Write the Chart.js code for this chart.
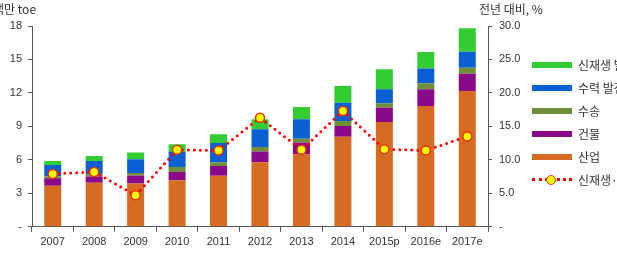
<!DOCTYPE html>
<html>
<head>
<meta charset="utf-8">
<script src="https://cdn.jsdelivr.net/npm/chart.js@4"></script>
<style>
  html, body { margin: 0; padding: 0; background: #fff; overflow: hidden; }
  #wrap { position: relative; width: 617px; height: 261px; overflow: hidden; font-family: "Noto Sans CJK KR", "Liberation Sans", sans-serif; color: #333; }
  #chart { position: absolute; left: 0; top: 0; }
  .axis-title { position: absolute; font-size: 12px; white-space: nowrap; line-height: 14px; }
  #legend { position: absolute; left: 532px; top: 53px; }
  .lg-row { height: 23px; display: flex; align-items: center; font-size: 12px; white-space: nowrap; }
  .lg-sw { width: 40px; height: 6px; margin-right: 6px; }
  .lg-line { position: relative; width: 40px; height: 10px; margin-right: 6px; }
  .lg-line .dots { position: absolute; left: 0; right: 0; top: 3px; border-top: 3px dotted #ff0000; }
  .lg-line .mk { position: absolute; left: 14px; top: 0; width: 8px; height: 8px; border-radius: 50%; background: #ffff00; border: 1.5px solid #e8320c; }
</style>
</head>
<body>
<div id="wrap">
  <canvas id="chart" width="617" height="261"></canvas>
  <div class="axis-title" style="left:-7px; top:2px;">백만 toe</div>
  <div class="axis-title" style="left:479px; top:2px;">전년 대비, %</div>
  <div id="legend"></div>
</div>
<script>
const YEARS = ["2007", "2008", "2009", "2010", "2011", "2012", "2013", "2014", "2015p", "2016e", "2017e"];

// 백만 toe, stacked from bottom
const INDUSTRY = [3.67, 3.94, 3.88, 4.18, 4.57, 5.79, 6.51, 8.08, 9.40, 10.83, 12.18];
const BUILDING = [0.69, 0.56, 0.72, 0.74, 0.89, 0.95, 1.04, 0.96, 1.28, 1.50, 1.54];
const TRANSPORT = [0.14, 0.20, 0.23, 0.45, 0.30, 0.42, 0.35, 0.45, 0.39, 0.53, 0.54];
const HYDRO = [1.05, 1.20, 1.23, 1.34, 1.76, 1.59, 1.74, 1.64, 1.26, 1.34, 1.44];
const RENEW_POWER = [0.35, 0.45, 0.60, 0.69, 0.78, 0.89, 1.10, 1.49, 1.79, 1.47, 2.09];

// 전년 대비 증가율, %
const GROWTH = [7.9, 8.2, 4.7, 11.5, 11.4, 16.3, 11.5, 17.3, 11.6, 11.4, 13.5];

const LEFT_TICKS = [0, 3, 6, 9, 12, 15, 18];
const RIGHT_TICKS = [0, 5, 10, 15, 20, 25, 30];

const COLORS = {
  industry: "#d66b24",
  building: "#880a88",
  transport: "#6f8f3a",
  hydro: "#0a5fd2",
  renew: "#33cc33",
  line: "#ff0000",
  marker: "#ffff00",
  markerBorder: "#e8320c",
};

const BAR_SERIES = [
  { label: "산업", data: INDUSTRY, color: COLORS.industry },
  { label: "건물", data: BUILDING, color: COLORS.building },
  { label: "수송", data: TRANSPORT, color: COLORS.transport },
  { label: "수력 발전", data: HYDRO, color: COLORS.hydro },
  { label: "신재생 발전", data: RENEW_POWER, color: COLORS.renew },
];
const LINE_LABEL = "신재생·기타 증가율";

const tickFont = { family: "'Liberation Sans', 'DejaVu Sans', sans-serif", size: 11 };

function fixWidth(w) {
  return (scale) => { scale.width = w; };
}

new Chart(document.getElementById("chart"), {
  data: {
    labels: YEARS,
    datasets: [
      {
        type: "line",
        label: LINE_LABEL,
        data: GROWTH,
        yAxisID: "y2",
        order: 0,
        borderColor: COLORS.line,
        borderWidth: 3,
        borderDash: [0, 6],
        borderCapStyle: "round",
        fill: false,
        tension: 0,
        pointRadius: 4.5,
        pointBackgroundColor: COLORS.marker,
        pointBorderColor: COLORS.markerBorder,
        pointBorderWidth: 1.5,
      },
      ...BAR_SERIES.map((s) => ({
        type: "bar",
        label: s.label,
        data: s.data,
        yAxisID: "y",
        order: 1,
        stack: "a",
        backgroundColor: s.color,
        borderWidth: 0,
        categoryPercentage: 1,
        barPercentage: 0.41,
      })),
    ],
  },
  options: {
    responsive: false,
    animation: false,
    layout: { padding: { top: 26, right: 0, left: 0, bottom: 8 } },
    plugins: { legend: { display: false }, tooltip: { enabled: false } },
    scales: {
      x: {
        stacked: true,
        grid: { offset: true, drawOnChartArea: false, tickLength: 5, color: "#555" },
        border: { color: "#555", width: 1 },
        ticks: { color: "#333", font: tickFont, padding: 4, maxRotation: 0 },
      },
      y: {
        position: "left",
        stacked: true,
        min: 0,
        max: 18,
        afterFit: fixWidth(32),
        afterBuildTicks: (scale) => { scale.ticks = LEFT_TICKS.map((v) => ({ value: v })); },
        grid: { drawOnChartArea: false, tickLength: 4, color: "#555" },
        border: { color: "#555", width: 1 },
        ticks: {
          color: "#333",
          font: tickFont,
          padding: 6,
          callback: (v) => (v === 0 ? "-" : v),
        },
      },
      y2: {
        position: "right",
        min: 0,
        max: 30,
        afterFit: fixWidth(129),
        afterBuildTicks: (scale) => { scale.ticks = RIGHT_TICKS.map((v) => ({ value: v })); },
        grid: { drawOnChartArea: false, tickLength: 4, color: "#555" },
        border: { color: "#555", width: 1 },
        ticks: {
          color: "#333",
          font: tickFont,
          padding: 7,
          callback: (v) => (v === 0 ? "-" : v.toFixed(1)),
        },
      },
    },
  },
});

/* ===== legend (top = last stacked series) ===== */
const legendEl = document.getElementById("legend");
legendEl.innerHTML =
  BAR_SERIES.slice()
    .reverse()
    .map((s) => `<div class="lg-row"><span class="lg-sw" style="background:${s.color}"></span>${s.label}</div>`)
    .join("") +
  `<div class="lg-row"><span class="lg-line"><span class="dots"></span><span class="mk"></span></span>${LINE_LABEL}</div>`;
</script>
</body>
</html>
